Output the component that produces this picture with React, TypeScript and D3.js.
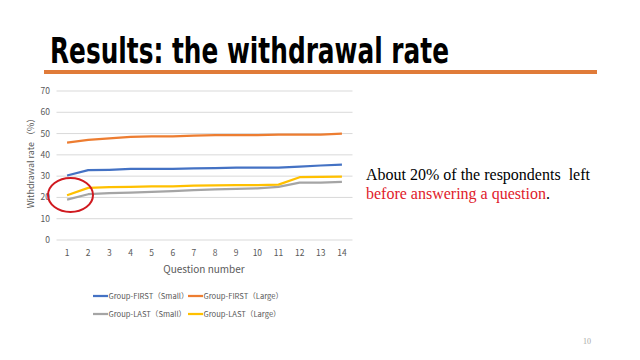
import React from "react";
import * as d3 from "d3";

const questions = [1, 2, 3, 4, 5, 6, 7, 8, 9, 10, 11, 12, 13, 14];
const firstSmall = [30.3, 32.8, 33.0, 33.4, 33.4, 33.4, 33.6, 33.8, 34.0, 34.0, 34.0, 34.5, 35.0, 35.4];
const firstLarge = [45.8, 47.0, 47.8, 48.5, 48.7, 48.7, 49.0, 49.3, 49.3, 49.3, 49.5, 49.5, 49.5, 50.0];
const lastSmall = [19.0, 21.5, 22.0, 22.3, 22.6, 23.0, 23.4, 23.8, 24.0, 24.3, 25.0, 27.0, 27.0, 27.3];
const lastLarge = [21.0, 24.5, 24.8, 25.0, 25.2, 25.2, 25.5, 25.7, 25.8, 25.8, 26.0, 29.5, 29.7, 29.8];
const yTicks = [0, 10, 20, 30, 40, 50, 60, 70];
const seriesNames = ["Group-FIRST（Small）", "Group-FIRST（Large）", "Group-LAST（Small）", "Group-LAST（Large）"];
const seriesColors = ["#4472C4", "#ED7D31", "#A5A5A5", "#FFC000"];

export default function App() {
  const allSeries = [firstSmall, firstLarge, lastSmall, lastLarge];
  const x = d3.scaleBand<number>().domain(questions).range([56.5, 352.5]);
  const y = d3.scaleLinear().domain([0, 70]).range([240, 91]);
  const line = d3
    .line<number>()
    .x((_, i) => (x(questions[i]) as number) + x.bandwidth() / 2)
    .y((d) => y(d));
  const axisFont = "'Noto Sans CJK JP', 'Noto Sans', sans-serif";
  const legendItems = [
    { i: 0, lx: 93, ly: 296 },
    { i: 1, lx: 188, ly: 296 },
    { i: 2, lx: 93, ly: 314 },
    { i: 3, lx: 188, ly: 314 },
  ];
  return (
    <svg width={640} height={360} style={{ position: "absolute", left: 0, top: 0, background: "#fff" }}>
      <text
        x={50}
        y={63}
        fontFamily="'DejaVu Sans Condensed', 'DejaVu Sans', sans-serif"
        fontWeight="bold"
        fontSize={35}
        textLength={399}
        lengthAdjust="spacingAndGlyphs"
        fill="#000"
      >
        Results: the withdrawal rate
      </text>
      <rect x={44} y={70} width={553} height={4} fill="#E07B39" />

      {yTicks.map((t) => (
        <g key={t}>
          <line x1={56.5} x2={352.5} y1={y(t)} y2={y(t)} stroke="#D9D9D9" strokeWidth={1} />
          <text x={50} y={y(t) + 3} textAnchor="end" fontSize={8.5} fill="#595959" fontFamily={axisFont}>
            {t}
          </text>
        </g>
      ))}
      {questions.map((q) => (
        <text
          key={q}
          x={(x(q) as number) + x.bandwidth() / 2}
          y={256}
          textAnchor="middle"
          fontSize={8.5}
          fill="#595959"
          fontFamily={axisFont}
        >
          {q}
        </text>
      ))}
      <text x={204} y={273} textAnchor="middle" fontSize={10} fill="#595959" fontFamily={axisFont}>
        Question number
      </text>
      <text
        transform="translate(34,161) rotate(-90)"
        textAnchor="middle"
        fontSize={9}
        fill="#595959"
        fontFamily={axisFont}
      >
        Withdrawal rate （%）
      </text>

      {allSeries.map((s, i) => (
        <path key={i} d={line(s) || ""} fill="none" stroke={seriesColors[i]} strokeWidth={2.25} strokeLinejoin="round" />
      ))}

      <ellipse cx={70.5} cy={195} rx={22.5} ry={17} fill="none" stroke="#D0191F" strokeWidth={2} />

      {legendItems.map(({ i, lx, ly }) => (
        <g key={i}>
          <line x1={lx} x2={lx + 15} y1={ly} y2={ly} stroke={seriesColors[i]} strokeWidth={2.25} />
          <text x={lx + 15.5} y={ly + 3} fontSize={7.6} fill="#595959" fontFamily={axisFont}>
            {seriesNames[i]}
          </text>
        </g>
      ))}

      <text
        x={366}
        y={180}
        fontSize={16}
        fontFamily="'Liberation Serif', 'Times New Roman', serif"
        fill="#000"
        style={{ whiteSpace: "pre" }}
      >
        About 20% of the respondents  left
      </text>
      <text x={366} y={199} fontSize={16} fontFamily="'Liberation Serif', 'Times New Roman', serif" fill="#E0202A">
        before answering a question<tspan fill="#000">.</tspan>
      </text>
      <text x={583} y={344} fontSize={8} fill="#A6A6A6" fontFamily="'Liberation Serif', serif">
        10
      </text>
    </svg>
  );
}
